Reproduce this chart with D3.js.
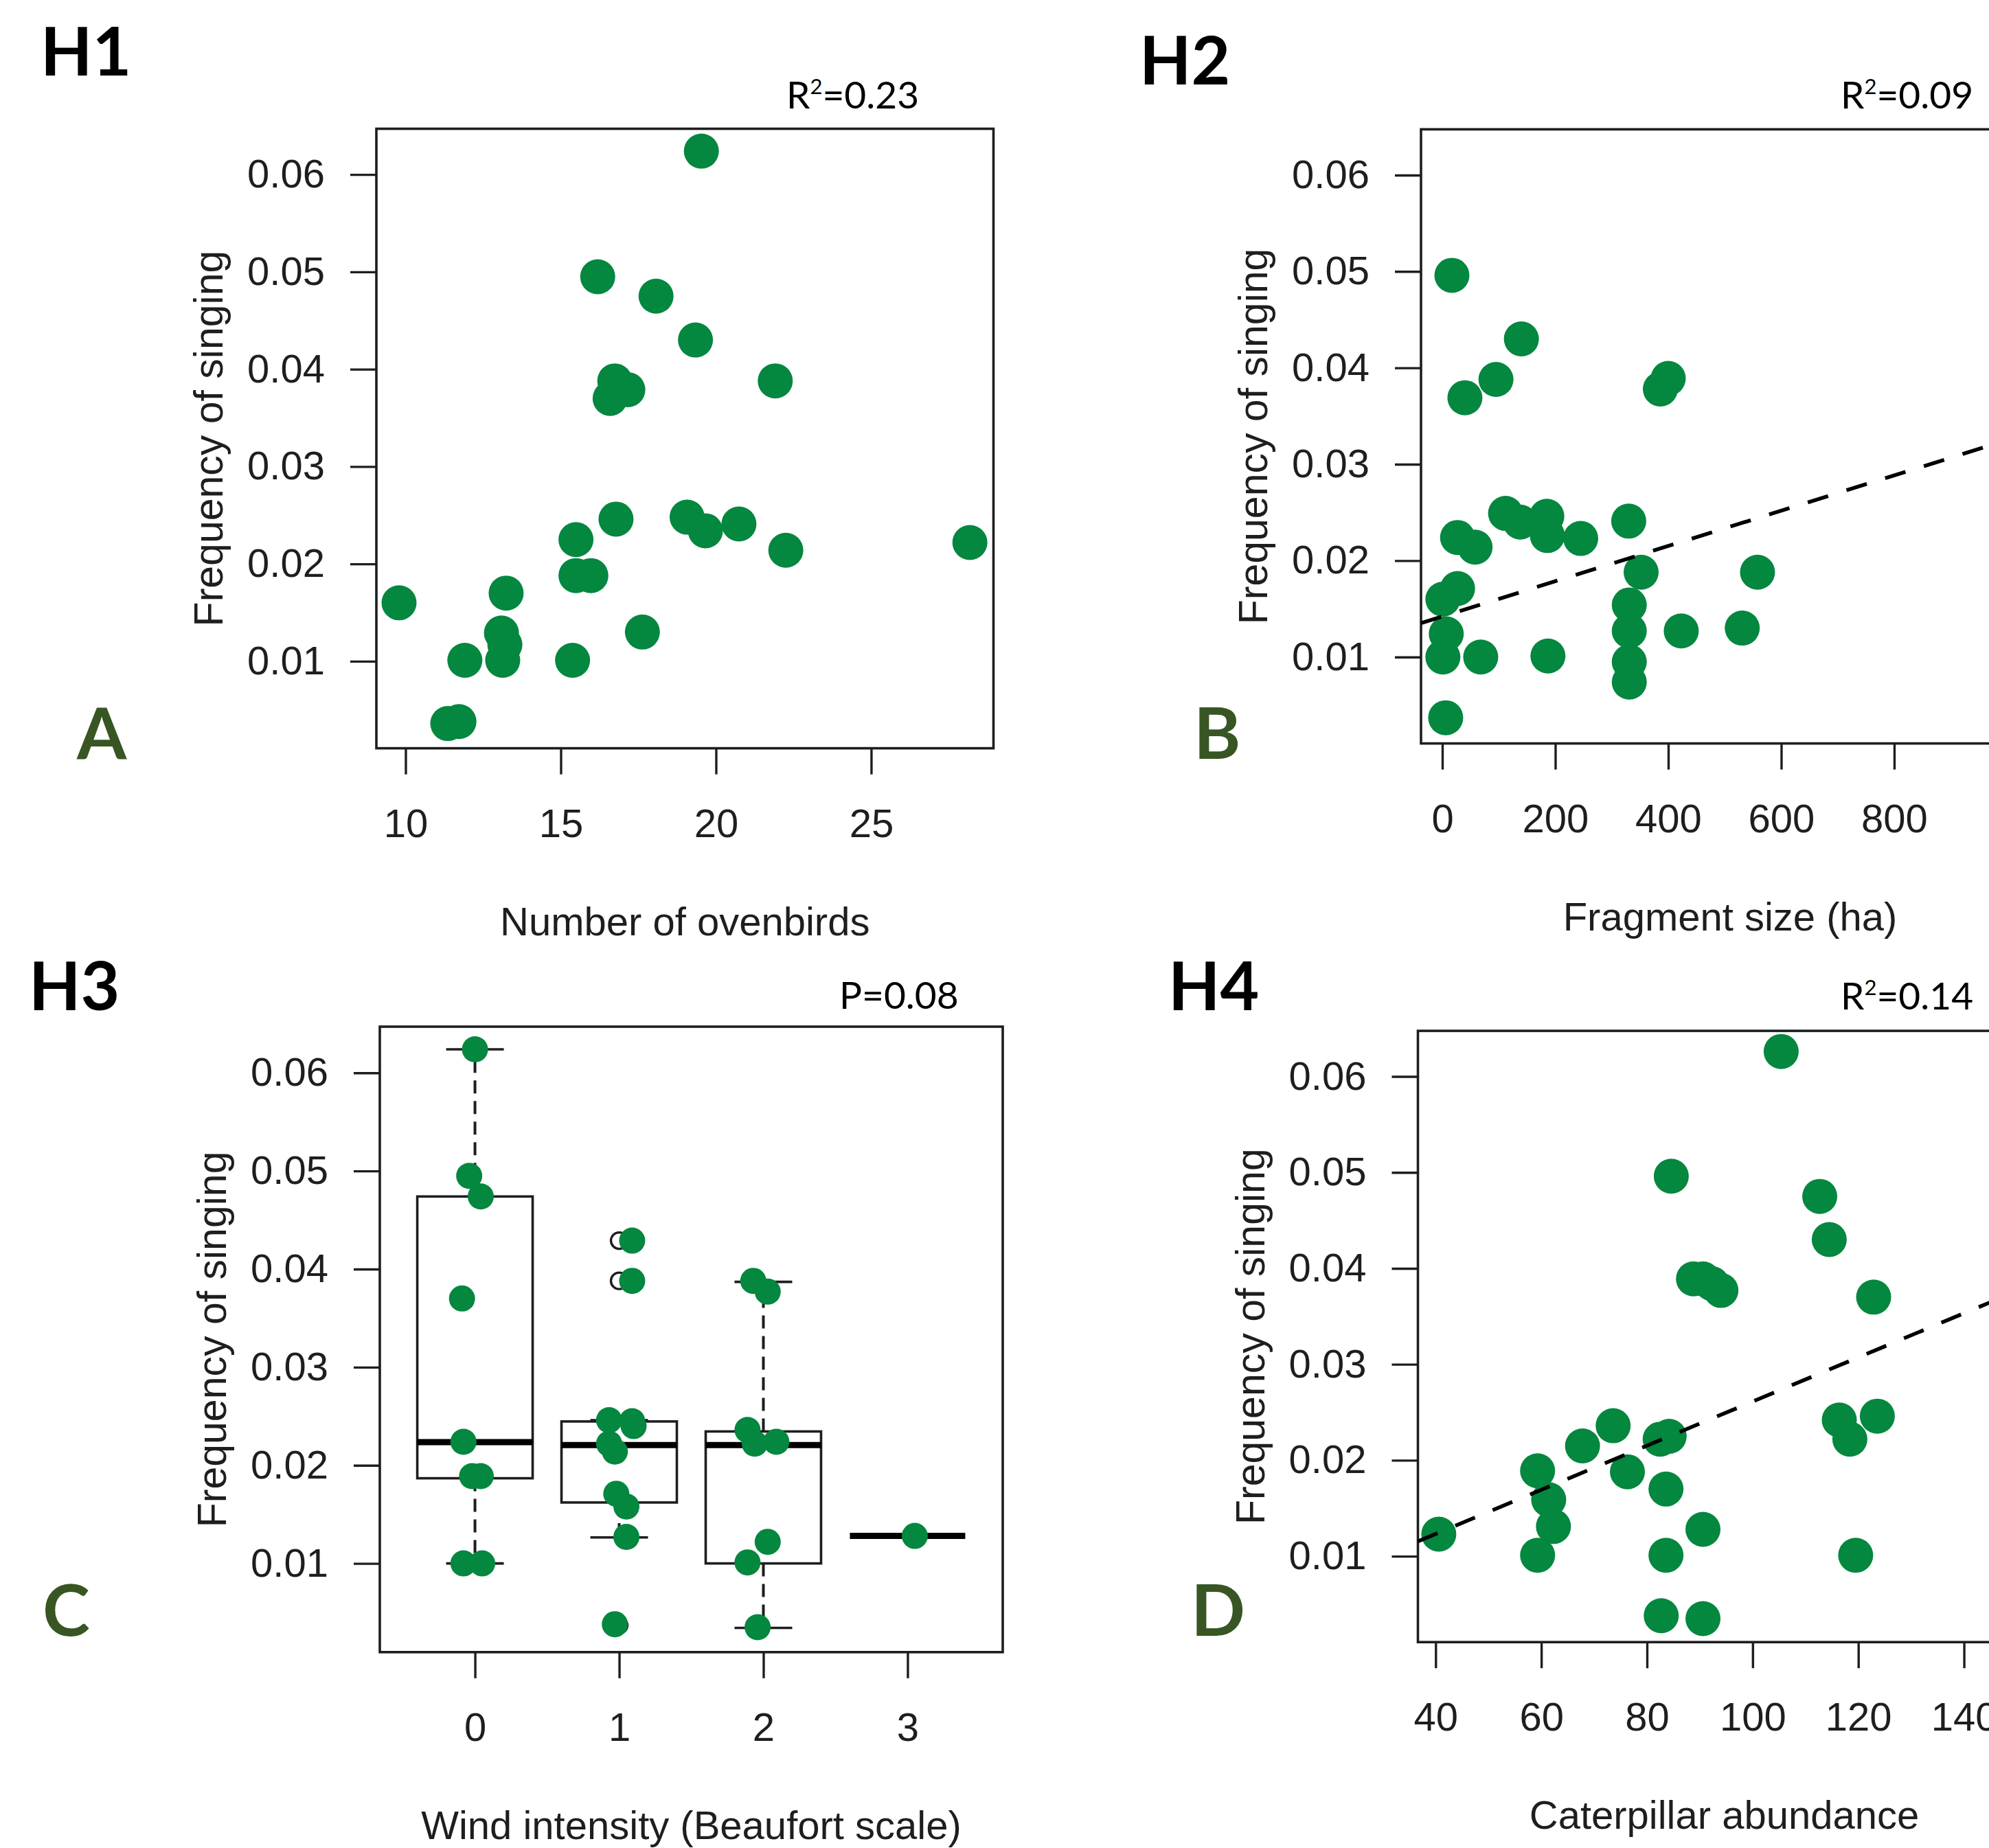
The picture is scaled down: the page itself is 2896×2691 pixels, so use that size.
<!DOCTYPE html>
<html>
<head>
<meta charset="utf-8">
<script src="https://cdn.jsdelivr.net/npm/d3@7"></script>
<style>
  body { margin: 0; background: #fff; }
  svg text { font-family: "Liberation Sans", Arial, sans-serif; }
  .calibri { font-family: Lato, "Open Sans", sans-serif; }
</style>
</head>
<body>
<svg id="fig" width="2896" height="2691"></svg>
<script>
// ---- data ----
var yTickVals = [0.01, 0.02, 0.03, 0.04, 0.05, 0.06];

// H1 / A : number of ovenbirds
var ovenbirdTicks = [10, 15, 20, 25];
var ovenbirdX = [19.53, 16.19, 18.07, 19.34, 21.91, 16.74, 17.16, 16.59, 16.78, 19.07, 19.66, 20.74, 22.25, 28.18,
                 15.49, 15.49, 15.97, 9.79, 13.24, 13.09, 13.2, 13.13, 11.91, 15.38, 17.63, 11.36, 11.72];
var ovenbirdY = [0.0624, 0.0495, 0.0475, 0.0430, 0.0388, 0.0388, 0.0379, 0.0370, 0.0246, 0.0248, 0.0234, 0.0241, 0.0214, 0.0222,
                 0.0225, 0.0188, 0.0188, 0.0160, 0.0170, 0.0129, 0.0117, 0.0101, 0.0101, 0.0101, 0.0130, 0.0036, 0.0038];

// H2 / B : fragment size
var fragmentTicks = [0, 200, 400, 600, 800];
var fragmentX = [17, 140, 95, 40, 386, 400, 112, 138, 185, 186, 245, 330, 27, 58, 352, 558, 27, 1, 7, 1, 68, 187,
                 331, 331, 331, 331, 423, 531, 6];
var fragmentY = [0.0496, 0.0430, 0.0388, 0.0369, 0.0378, 0.0389, 0.0249, 0.0240, 0.0246, 0.0226, 0.0223, 0.0241, 0.0224, 0.0214,
                 0.0188, 0.0188, 0.0171, 0.0160, 0.0124, 0.0100, 0.0100, 0.0101, 0.0154, 0.0127, 0.0095, 0.0074, 0.0127, 0.0130, 0.0037];
var fragmentFit = [0.0142, 0.0000183];   // intercept, slope

// H3 / C : wind intensity (boxplot)
var windLevels = [0, 1, 2, 3];
var windLower  = [0.0100, 0.01265, 0.00343, 0.0128];
var windQ1     = [0.01868, 0.01621, 0.0100, 0.0128];
var windMedian = [0.02236, 0.02206, 0.02206, 0.0128];
var windQ3     = [0.0474, 0.02447, 0.02345, 0.0128];
var windUpper  = [0.0624, 0.0246, 0.0387, 0.0128];
var windOutlierGroup = [1, 1, 1];
var windOutlierY     = [0.0429, 0.0388, 0.0037];
var windPointGroup  = [0, 0, 0, 0, 0, 0, 0, 0, 0,
                       1, 1, 1, 1, 1, 1, 1, 1, 1, 1, 1,
                       2, 2, 2, 2, 2, 2, 2, 2,
                       3];
var windPointY      = [0.0624, 0.0495, 0.0474, 0.0370, 0.0224, 0.0189, 0.0189, 0.0100, 0.0100,
                       0.0429, 0.0388, 0.0246, 0.0245, 0.0240, 0.0222, 0.0214, 0.0171, 0.0158, 0.0127, 0.0038,
                       0.0388, 0.0377, 0.0236, 0.0222, 0.0224, 0.0122, 0.0101, 0.0035,
                       0.0128];
var windPointJitter = [0, -0.04, 0.04, -0.09, -0.08, -0.02, 0.04, -0.08, 0.05,
                       0.09, 0.09, -0.07, 0.09, 0.10, -0.07, -0.03, -0.02, 0.05, 0.05, -0.03,
                       -0.07, 0.03, -0.11, -0.06, 0.09, 0.03, -0.11, -0.04,
                       0.05];

// H4 / D : caterpillar abundance
var caterpillarTicks = [40, 60, 80, 100, 120, 140];
var caterpillarX = [105.4, 84.6, 112.7, 114.5, 88.8, 90.6, 92.3, 94.0, 122.9, 73.6, 67.8, 82.5, 84.2, 123.6,
                    116.4, 118.4, 59.3, 76.3, 61.4, 62.3, 83.6, 90.6, 59.3, 83.6, 119.5, 40.6, 82.7, 90.6];
var caterpillarY = [0.0626, 0.0496, 0.0475, 0.0430, 0.0389, 0.0389, 0.0384, 0.0377, 0.0370, 0.0236, 0.0215, 0.0222, 0.0225, 0.0246,
                    0.0242, 0.0222, 0.0189, 0.0188, 0.0159, 0.0131, 0.0170, 0.0128, 0.0101, 0.0101, 0.0101, 0.0123, 0.0038, 0.0035];
var caterpillarFit = [0.00312, 0.00023];

// ---- drawing ----
var GREEN = "#04873f";
var INK = "#1e1e1e";
var LABEL_GREEN = "#375623";
var FONT = 58;

var svg = d3.select("#fig");
svg.append("rect").attr("width", 2896).attr("height", 2691).attr("fill", "#fff");
var defs = svg.append("defs");

// builds box, axes and axis titles for one panel; returns the group
function drawFrame(id, box, x, y, xTicks, xFormat, xTitle) {
  var g = svg.append("g").attr("class", "panel-" + id);

  defs.append("clipPath").attr("id", "clip-" + id)
    .append("rect")
      .attr("x", box.left).attr("y", box.top)
      .attr("width", box.right - box.left).attr("height", box.bottom - box.top);

  var yAxis = d3.axisLeft(y).tickValues(yTickVals).tickSize(38).tickSizeOuter(0)
      .tickPadding(37).tickFormat(d3.format(".2f"));
  var xAxis = d3.axisBottom(x).tickValues(xTicks).tickSize(38).tickSizeOuter(0)
      .tickPadding(50).tickFormat(xFormat);

  var ya = g.append("g").attr("transform", "translate(" + box.left + ",0)").call(yAxis);
  var xa = g.append("g").attr("transform", "translate(0," + box.bottom + ")").call(xAxis);
  [ya, xa].forEach(function(a) {
    a.attr("font-size", null).attr("font-family", null);
    a.select(".domain").remove();
    a.selectAll("line").attr("stroke", INK).attr("stroke-width", 3.4);
    a.selectAll("text").attr("fill", INK).style("font-size", FONT + "px");
  });

  g.append("rect")
    .attr("x", box.left).attr("y", box.top)
    .attr("width", box.right - box.left).attr("height", box.bottom - box.top)
    .attr("fill", "none").attr("stroke", INK).attr("stroke-width", 3.6);

  g.append("text")
    .attr("x", (box.left + box.right) / 2).attr("y", box.bottom + 272)
    .attr("text-anchor", "middle").attr("fill", INK)
    .style("font-size", FONT + "px")
    .text(xTitle);

  g.append("text")
    .attr("transform", "translate(" + (box.left - 224) + "," + ((box.top + box.bottom) / 2) + ") rotate(-90)")
    .attr("text-anchor", "middle").attr("fill", INK)
    .style("font-size", (FONT + 1) + "px")
    .text("Frequency of singing");

  return g;
}

function drawPoints(g, id, xs, ys, x, y, r) {
  g.append("g").attr("clip-path", "url(#clip-" + id + ")")
    .selectAll("circle")
    .data(d3.zip(xs, ys))
    .enter().append("circle")
      .attr("cx", function(d) { return x(d[0]); })
      .attr("cy", function(d) { return y(d[1]); })
      .attr("r", r)
      .attr("fill", GREEN);
}

function drawFit(g, id, fit, x, y) {
  var d0 = x.domain()[0], d1 = x.domain()[1];
  g.append("line")
    .attr("clip-path", "url(#clip-" + id + ")")
    .attr("x1", x(d0)).attr("y1", y(fit[0] + fit[1] * d0))
    .attr("x2", x(d1)).attr("y2", y(fit[0] + fit[1] * d1))
    .attr("stroke", "#000").attr("stroke-width", 5.5)
    .attr("stroke-dasharray", "31,28");
}

function drawLabels(hText, hx, hy, letter, lx, ly, stat, statSup, statRest, sx, sy) {
  svg.append("text").attr("class", "calibri")
    .attr("x", hx).attr("y", hy)
    .attr("font-weight", 700).style("font-size", "98px").attr("fill", "#000")
    .text(hText);
  svg.append("text").attr("class", "calibri")
    .attr("x", lx).attr("y", ly)
    .attr("font-weight", 700).style("font-size", "104px").attr("fill", LABEL_GREEN)
    .text(letter);
  var t = svg.append("text").attr("class", "calibri")
    .attr("x", sx).attr("y", sy)
    .style("font-size", "55px").attr("fill", "#000");
  t.append("tspan").text(stat);
  if (statSup) {
    t.append("tspan").style("font-size", "31px").attr("dy", -21).text(statSup);
    t.append("tspan").attr("dy", 21).text(statRest);
  }
}

// ---- panel A ----
(function() {
  var box = {left: 548, right: 1446.5, top: 187.5, bottom: 1089.6};
  var x = d3.scaleLinear().domain([9.06, 28.94]).range([box.left, box.right]);
  var y = d3.scaleLinear().domain([0.00106, 0.0647]).range([box.bottom, box.top]);
  var g = drawFrame("a", box, x, y, ovenbirdTicks, d3.format("d"), "Number of ovenbirds");
  drawPoints(g, "a", ovenbirdX, ovenbirdY, x, y, 25.5);
  drawLabels("H1", 59, 110, "A", 112, 1105, "R", "2", "=0.23", 1145, 158);
})();

// ---- panel B ----
(function() {
  var box = {left: 2069, right: 2969, top: 188.3, bottom: 1082.6};
  var x = d3.scaleLinear().domain([-37.7, 1056.6]).range([box.left, box.right]);
  var y = d3.scaleLinear().domain([0.00103, 0.06475]).range([box.bottom, box.top]);
  var g = drawFrame("b", box, x, y, fragmentTicks, d3.format("d"), "Fragment size (ha)");
  drawPoints(g, "b", fragmentX, fragmentY, x, y, 25.5);
  drawFit(g, "b", fragmentFit, x, y);
  drawLabels("H2", 1659, 123, "B", 1738, 1105, "R", "2", "=0.09", 2680, 158);
})();

// ---- panel C (boxplot) ----
(function() {
  var box = {left: 553, right: 1460, top: 1495, bottom: 2405.8};
  var x = d3.scaleLinear().domain([0.34, 4.66]).range([box.left, box.right]);
  var y = d3.scaleLinear().domain([0.000956, 0.06471]).range([box.bottom, box.top]);
  var g = drawFrame("c", box, x, y, windLevels.map(function(d) { return d + 1; }),
                    function(d) { return d - 1; }, "Wind intensity (Beaufort scale)");

  var stats = windLevels.map(function(lv, i) {
    return {pos: i + 1, lo: windLower[i], q1: windQ1[i], med: windMedian[i], q3: windQ3[i], hi: windUpper[i]};
  });
  var bx = g.append("g");
  var half = 0.4, stapleHalf = 0.2;

  // whiskers (dashed) and staples
  stats.forEach(function(s) {
    if (s.hi > s.q3) {
      bx.append("line").attr("x1", x(s.pos)).attr("x2", x(s.pos)).attr("y1", y(s.q3)).attr("y2", y(s.hi))
        .attr("stroke", INK).attr("stroke-width", 4).attr("stroke-dasharray", "19,11");
      bx.append("line").attr("x1", x(s.pos - stapleHalf)).attr("x2", x(s.pos + stapleHalf))
        .attr("y1", y(s.hi)).attr("y2", y(s.hi)).attr("stroke", INK).attr("stroke-width", 3.6);
    }
    if (s.lo < s.q1) {
      bx.append("line").attr("x1", x(s.pos)).attr("x2", x(s.pos)).attr("y1", y(s.q1)).attr("y2", y(s.lo))
        .attr("stroke", INK).attr("stroke-width", 4).attr("stroke-dasharray", "19,11");
      bx.append("line").attr("x1", x(s.pos - stapleHalf)).attr("x2", x(s.pos + stapleHalf))
        .attr("y1", y(s.lo)).attr("y2", y(s.lo)).attr("stroke", INK).attr("stroke-width", 3.6);
    }
    if (s.q3 > s.q1) {
      bx.append("rect").attr("x", x(s.pos - half)).attr("width", x(s.pos + half) - x(s.pos - half))
        .attr("y", y(s.q3)).attr("height", y(s.q1) - y(s.q3))
        .attr("fill", "none").attr("stroke", INK).attr("stroke-width", 3.6);
    }
    bx.append("line").attr("x1", x(s.pos - half)).attr("x2", x(s.pos + half))
      .attr("y1", y(s.med)).attr("y2", y(s.med)).attr("stroke", "#000").attr("stroke-width", 9);
  });

  // outliers as open circles
  bx.selectAll("circle.out")
    .data(d3.zip(windOutlierGroup, windOutlierY))
    .enter().append("circle").attr("class", "out")
      .attr("cx", function(d) { return x(d[0] + 1); })
      .attr("cy", function(d) { return y(d[1]); })
      .attr("r", 12).attr("fill", "none").attr("stroke", INK).attr("stroke-width", 3.4);

  // jittered raw points
  var px = windPointGroup.map(function(gi, i) { return gi + 1 + windPointJitter[i]; });
  drawPoints(g, "c", px, windPointY, x, y, 19);

  drawLabels("H3", 42, 1471, "C", 62, 2382, "P=0.08", null, null, 1222, 1469);
})();

// ---- panel D ----
(function() {
  var box = {left: 2064.5, right: 2956.5, top: 1501.1, bottom: 2391.2};
  var x = d3.scaleLinear().domain([36.65, 152.6]).range([box.left, box.right]);
  var y = d3.scaleLinear().domain([0.00105, 0.06475]).range([box.bottom, box.top]);
  var g = drawFrame("d", box, x, y, caterpillarTicks, d3.format("d"), "Caterpillar abundance");
  drawPoints(g, "d", caterpillarX, caterpillarY, x, y, 25.5);
  drawFit(g, "d", caterpillarFit, x, y);
  drawLabels("H4", 1701, 1471, "D", 1734, 2382, "R", "2", "=0.14", 2680, 1470);
})();
</script>
</body>
</html>
